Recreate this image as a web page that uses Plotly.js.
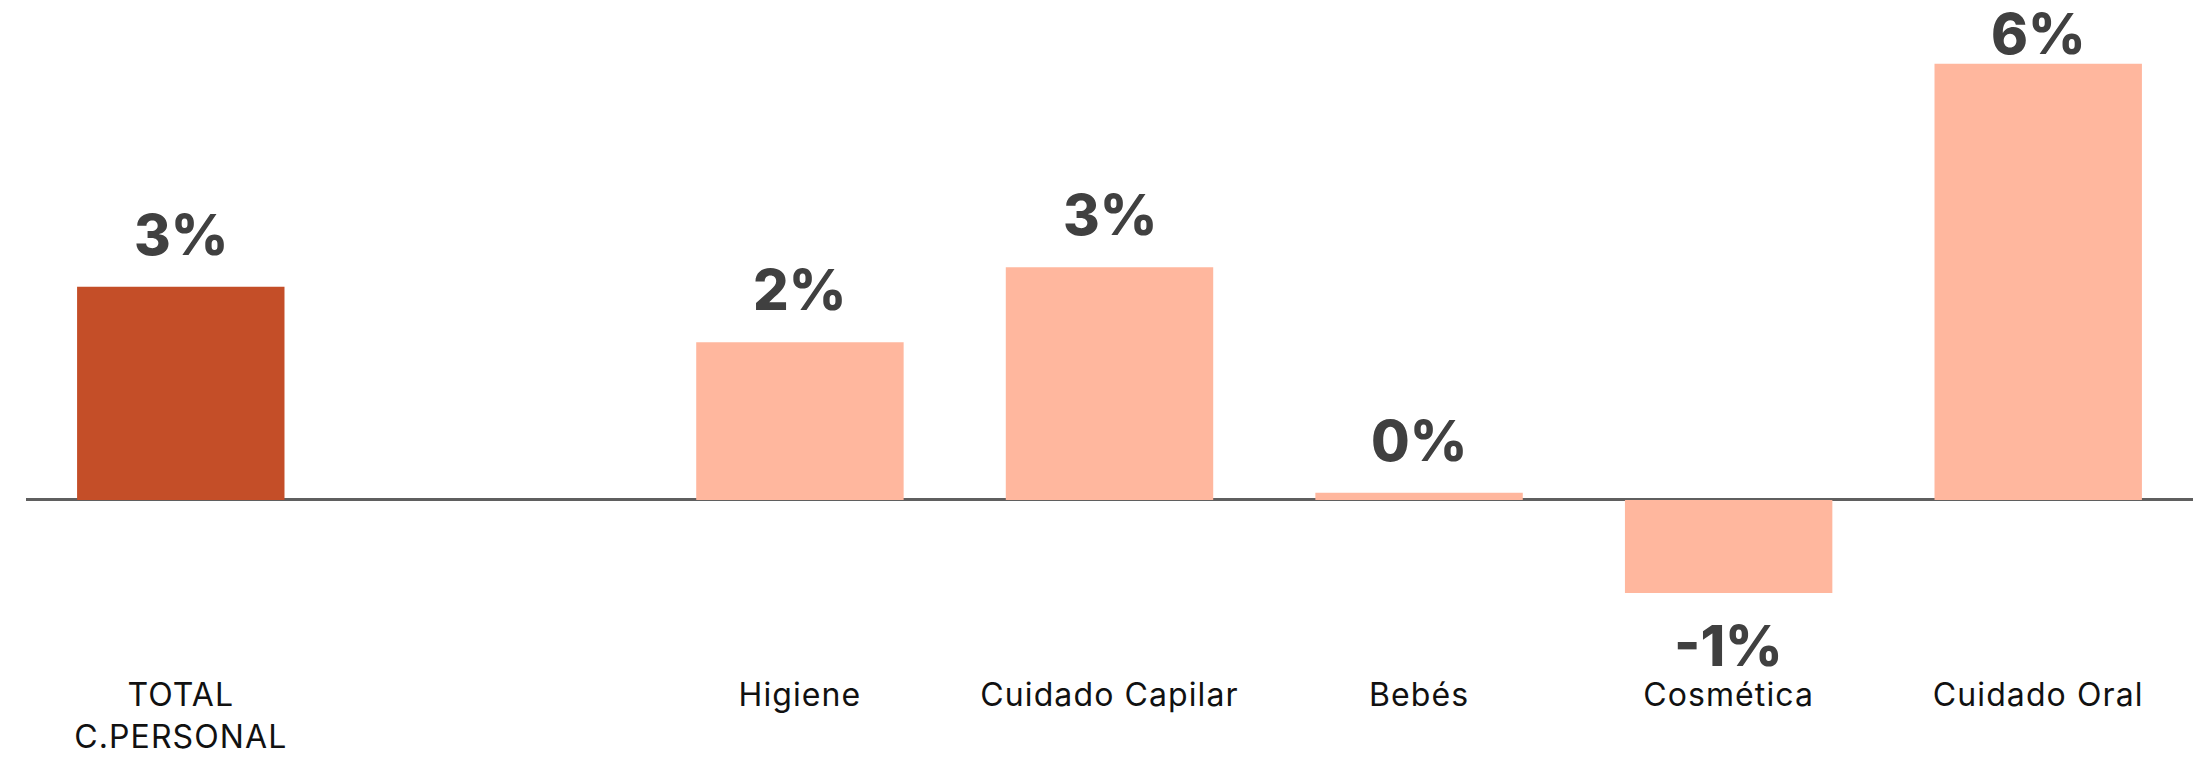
<!DOCTYPE html>
<html>
<head>
<meta charset="utf-8">
<script src="https://cdn.plot.ly/plotly-3.0.1.min.js"></script>
<style>
html,body{margin:0;padding:0;background:#fff;}
#chart{width:2195px;height:759px;}
#chart .xtick text{letter-spacing:1.1px;}
</style>
</head>
<body>
<div id="chart"></div>
<script>
// Data
const categories = ["TOTAL<br>C.PERSONAL", " ", "Higiene", "Cuidado Capilar", "Bebés", "Cosmética", "Cuidado Oral"];
const values = [2.93, null, 2.17, 3.2, 0.1, -1.28, 6.0];
const isTotal = [true, false, false, false, false, false, false];

const totalColor = "#C44E28";
const catColor = "#FFB79E";

const W = 2195, H = 759;
const mT = 20, mB = 86, mL = 26, mR = 2;
const yRange = [-2.38, 6.6];
const plotH = H - mT - mB;
const pxPerUnit = plotH / (yRange[1] - yRange[0]);

const labelFont = {family: "Inter, 'Open Sans', sans-serif", size: 56, color: "#404040", weight: 800};

const annotations = [];
categories.forEach((c, i) => {
  const v = values[i];
  if (v === null) return;
  const txt = Math.round(v) + "%";
  if (v >= 0) {
    const topPx = mT + (yRange[1] - v) * pxPerUnit;
    let shift = 16;
    const needed = 72 + shift;
    if (topPx - needed < 0) shift = topPx - 72 + 2;
    annotations.push({x: c, y: v, xref: "x", yref: "y", text: txt, showarrow: false,
      yanchor: "bottom", yshift: shift, font: labelFont});
  } else {
    annotations.push({x: c, y: v, xref: "x", yref: "y", text: txt, showarrow: false,
      yanchor: "top", yshift: -17, font: labelFont});
  }
});

const trace = {
  type: "bar",
  x: categories,
  y: values,
  marker: {color: isTotal.map(t => t ? totalColor : catColor), line: {width: 0}},
  hoverinfo: "x+y"
};

const layout = {
  width: W, height: H,
  margin: {t: mT, b: mB, l: mL, r: mR, pad: 0},
  paper_bgcolor: "#ffffff",
  plot_bgcolor: "#ffffff",
  bargap: 0.33,
  showlegend: false,
  xaxis: {
    type: "category",
    categoryorder: "array",
    categoryarray: categories,
    showgrid: false, showline: false, zeroline: false, ticks: "",
    tickfont: {family: "Inter, 'Open Sans', sans-serif", size: 32, color: "#111111"}
  },
  yaxis: {
    range: yRange,
    showgrid: false, showticklabels: false, ticks: "",
    zeroline: true, zerolinecolor: "#5f5f5f", zerolinewidth: 3,
    showline: false
  },
  annotations: annotations
};

Plotly.newPlot("chart", [trace], layout, {displayModeBar: false, staticPlot: true});
</script>
</body>
</html>
